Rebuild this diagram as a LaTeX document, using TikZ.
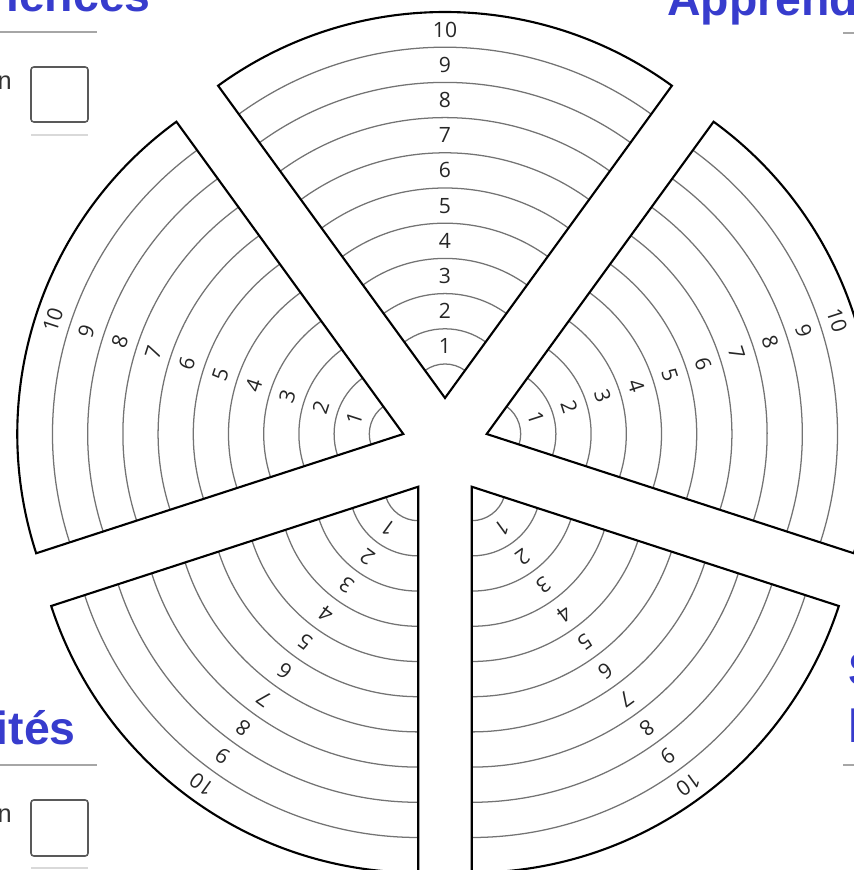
\documentclass[tikz,border=0pt]{standalone}
\usepackage{fontspec}
\setmainfont{Liberation Sans}
\newfontfamily\ringfont{Open Sans}
\usepackage{tikz}
\usetikzlibrary{
    calc
}
\usepackage{xcolor}
\definecolor{headblue}{RGB}{55,60,205}
\tikzstyle{sector} = [
    draw=black,
    line width=1.5pt,
    line join=miter
]
\tikzstyle{ring} = [
    draw=black!55,
    line width=0.9pt
]
\tikzstyle{level} = [
    inner sep=0pt,
    text=black!85,
    font=\ringfont\fontsize{15}{16}\selectfont
]
\tikzstyle{heading} = [
    inner sep=0pt,
    text=headblue,
    font=\fontsize{33}{36}\selectfont\bfseries
]
\tikzstyle{rule} = [
    draw=black!35,
    line width=1.5pt
]
\tikzstyle{checkbox} = [
    draw=black!65,
    line width=1.1pt,
    rounded corners=2pt
]

\begin{document}
\begin{tikzpicture}[x=0.025cm, y=0.025cm]
    \useasboundingbox (0,0) rectangle (854,870);
    \clip (0,0) rectangle (854,870);

    % Five sectors, ten rings each
    \foreach \ang/\ax/\ay [count=\s] in {90/445/472, 162/403.3/436, 18/486.7/436, 234/418.3/383.3, 306/471.7/383.3} {
        \coordinate (apex-\s) at (\ax,\ay);
        \foreach \k in {0,...,9}
            \draw[ring] ($(apex-\s)+(\ang-36:34+35.2*\k)$) arc[start angle=\ang-36, end angle=\ang+36, radius=34+35.2*\k];
        \foreach \k in {1,...,10}
            \node[level, rotate=\ang-90] (num-\s-\k) at ($(apex-\s)+(\ang:16.4+35.2*\k)$) {\k};
        \draw[sector] (apex-\s) -- ++(\ang-36:386) arc[start angle=\ang-36, end angle=\ang+36, radius=386] -- cycle;
    }

    % Headings at the edges
    \node[heading, anchor=base east] (head-tl) at (151,858) {iences};
    \node[heading, anchor=base west] (head-tr) at (667,854) {Apprend};
    \node[heading, anchor=base east] (head-bl) at (76,125) {ités};
    \node[heading, anchor=base west] (head-r1) at (848,184) {S};
    \node[heading, anchor=base west] (head-r2) at (848,127) {l};

    % Rules under the headings
    \coordinate (rule-tl-a) at (0,838);
    \coordinate (rule-tl-b) at (97,838);
    \coordinate (rule-tr-a) at (843,837);
    \coordinate (rule-tr-b) at (854,837);
    \coordinate (rule-bl-a) at (0,105);
    \coordinate (rule-bl-b) at (97,105);
    \coordinate (rule-br-a) at (843,105);
    \coordinate (rule-br-b) at (854,105);
    \draw[rule] (rule-tl-a) -- (rule-tl-b);
    \draw[rule] (rule-tr-a) -- (rule-tr-b);
    \draw[rule] (rule-bl-a) -- (rule-bl-b);
    \draw[rule] (rule-br-a) -- (rule-br-b);

    % Check boxes
    \node[anchor=base east, inner sep=0pt, text=black!80, font=\fontsize{18}{20}\selectfont] (tick-tl) at (12,780) {n};
    \node[anchor=base east, inner sep=0pt, text=black!80, font=\fontsize{18}{20}\selectfont] (tick-bl) at (12,47) {n};
    \draw[checkbox] (31,748) rectangle (88,803);
    \draw[checkbox] (31,14) rectangle (88,70);
    \draw[draw=black!15, line width=0.8pt] (31,735) -- (88,735);
    \draw[draw=black!15, line width=0.8pt] (31,2) -- (88,2);
\end{tikzpicture}
\end{document}
